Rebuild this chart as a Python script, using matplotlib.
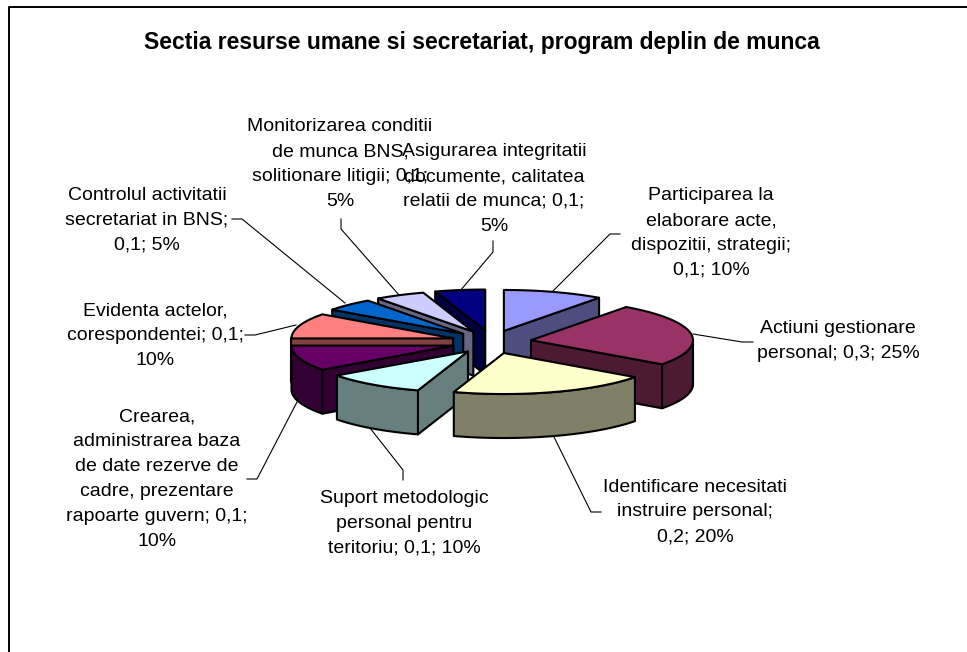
import numpy as np
import matplotlib
matplotlib.use('Agg')
import matplotlib.pyplot as plt
from matplotlib.patches import Polygon

title = 'Sectia resurse umane si secretariat, program deplin de munca'
labels = ['Participarea la\nelaborare acte,\ndispozitii, strategii;\n0,1; 10%',
	'Actiuni gestionare\npersonal; 0,3; 25%',
	'Identificare necesitati\ninstruire personal;\n0,2; 20%',
	'Suport metodologic\npersonal pentru\nteritoriu; 0,1; 10%',
	'Crearea,\nadministrarea baza\nde date rezerve de\ncadre, prezentare\nrapoarte guvern; 0,1;\n10%',
	'Evidenta actelor,\ncorespondentei; 0,1;\n10%',
	'Controlul activitatii\nsecretariat in BNS;\n0,1; 5%',
	'Monitorizarea conditii\nde munca BNS,\nsolitionare litigii; 0,1;\n5%',
	'Asigurarea integritatii\ndocumente, calitatea\nrelatii de munca; 0,1;\n5%']
shares = [10, 25, 20, 10, 10, 10, 5, 5, 5]
tops = ['#9999FF', '#993366', '#FFFFCC', '#CCFFFF', '#660066', '#FF8080', '#0066CC', '#CCCCFF', '#000080']
walls = ['#4D4D80', '#4D1A33', '#808066', '#668080', '#330033', '#804040', '#003366', '#666680', '#000040']

# pixel layout of the 3d pie
cx, cy = 491.5, 342
ra, rb = 162, 41
depth = 44
expl_x, expl_y = 40, 11.6
# back to front
draw_order = [8, 7, 6, 5, 4, 3, 0, 1, 2]

label_pos = [(711, 233), (838, 341), (695, 512), (404, 523), (157, 479), (155, 336), (147, 220), (340, 164), (494, 189)]
leaders = [[(620, 234), (610, 234), (553, 291)],
	[(753, 342), (742, 342), (693, 334)],
	[(601, 512), (591, 512), (553, 435)],
	[(403, 480), (403, 470), (370, 428)],
	[(247, 479), (257, 479), (297, 402)],
	[(245, 335), (255, 335), (296, 325)],
	[(232, 219), (242, 219), (345, 303)],
	[(341, 219), (341, 229), (399, 295)],
	[(493, 241), (493, 252), (460, 291)]]

plt.rcParams['font.family'] = ['Liberation Sans', 'DejaVu Sans']
fig = plt.figure(figsize=(9.67, 6.52), dpi=100)
ax = fig.add_axes([0, 0, 1, 1])
ax.set_xlim(0, 967)
ax.set_ylim(652, 0)
ax.axis('off')

# frame, only top and left are inside the crop
ax.plot([8.5, 8.5, 967], [652, 6.5, 6.5], color='black', lw=1.4, solid_capstyle='butt')
ax.text(482, 42, title, ha='center', va='center', fontsize=16.5, fontweight='bold')

edges = np.cumsum([0] + shares) * 3.6


def point(x0, y0, deg):
	t = np.radians(deg)
	return x0 + ra * np.sin(t), y0 - rb * np.cos(t)


for i in draw_order:
	a0, a1 = edges[i], edges[i + 1]
	mid = np.radians((a0 + a1) / 2)
	x0 = cx + expl_x * np.sin(mid)
	y0 = cy - expl_y * np.cos(mid)
	z = 3

	# flat cut faces
	for deg, normal in [(a0, a0 - 90), (a1, a1 + 90)]:
		if -np.cos(np.radians(normal)) > 0:
			px, py = point(x0, y0, deg)
			face = [(x0, y0), (px, py), (px, py + depth), (x0, y0 + depth)]
			ax.add_patch(Polygon(face, closed=True, fc=walls[i], ec='black', lw=1.5, joinstyle='round', zorder=z))

	# outer wall, front half of the rim only
	w0, w1 = max(a0, 90), min(a1, 270)
	if w1 > w0:
		arc = np.linspace(w0, w1, 40)
		px, py = point(x0, y0, arc)
		xs = np.r_[px, px[::-1]]
		ys = np.r_[py, py[::-1] + depth]
		ax.add_patch(Polygon(np.c_[xs, ys], closed=True, fc=walls[i], ec='black', lw=1.5, joinstyle='round', zorder=z))

	arc = np.linspace(a0, a1, 40)
	px, py = point(x0, y0, arc)
	ax.add_patch(Polygon(np.c_[np.r_[x0, px], np.r_[y0, py]], closed=True, fc=tops[i], ec='black', lw=1.5, joinstyle='round', zorder=z))

for i in range(len(labels)):
	xs, ys = zip(*leaders[i])
	ax.plot(xs, ys, color='black', lw=0.8, zorder=2)
	ax.text(label_pos[i][0], label_pos[i][1], labels[i], ha='center', va='center', fontsize=14, linespacing=1.6, zorder=5)

fig.savefig('out.png', dpi=100)
